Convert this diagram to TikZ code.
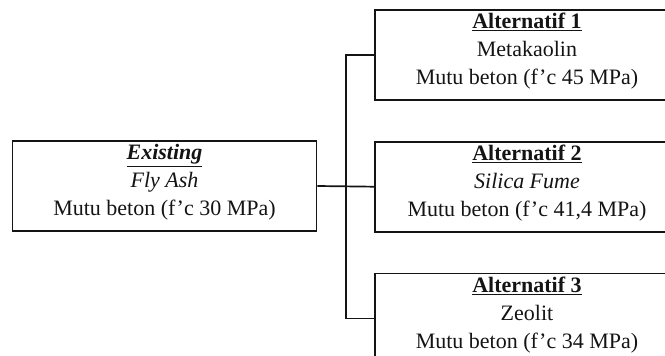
\documentclass[tikz,border=0pt]{standalone}
\usepackage{fontspec}
\setmainfont{Liberation Serif}
\usetikzlibrary{calc,positioning}
\definecolor{lineGray}{RGB}{20,20,20}
\tikzset{
  optBox/.style={draw=lineGray,line width=1.7pt,minimum width=304pt,minimum height=90pt,
    align=center,inner sep=0pt,text=lineGray,text depth=12pt,font=\fontsize{22}{28}\selectfont},
  link/.style={draw=lineGray,line width=1.7pt}
}

\begin{document}
\begin{tikzpicture}[x=1pt,y=-1pt]
\useasboundingbox (0,0) rectangle (665,356);
\clip (0,0) rectangle (665,356);
% kondisi awal
\node[optBox] (exist) at (164.5,186) {\underline{\textbf{\textit{Existing}}}\\ \textit{Fly Ash}\\ Mutu beton (f'c 30 MPa)};
% alternatif
\node[optBox] (alt1) at (527,55) {\underline{\textbf{Alternatif 1}}\\ Metakaolin\\ Mutu beton (f'c 45 MPa)};
\node[optBox,below=40pt of alt1] (alt2) {\underline{\textbf{Alternatif 2}}\\ \textit{Silica Fume}\\ Mutu beton (f'c 41,4 MPa)};
\node[optBox,below=40pt of alt2] (alt3) {\underline{\textbf{Alternatif 3}}\\ Zeolit\\ Mutu beton (f'c 34 MPa)};
\coordinate (fork) at ($(exist.east)!0.5!(alt2.west)$);
\draw[link] (exist.east) -- (alt2.west);
\draw[link] (alt1.west) -| (fork) |- (alt3.west);
\end{tikzpicture}
\end{document}
